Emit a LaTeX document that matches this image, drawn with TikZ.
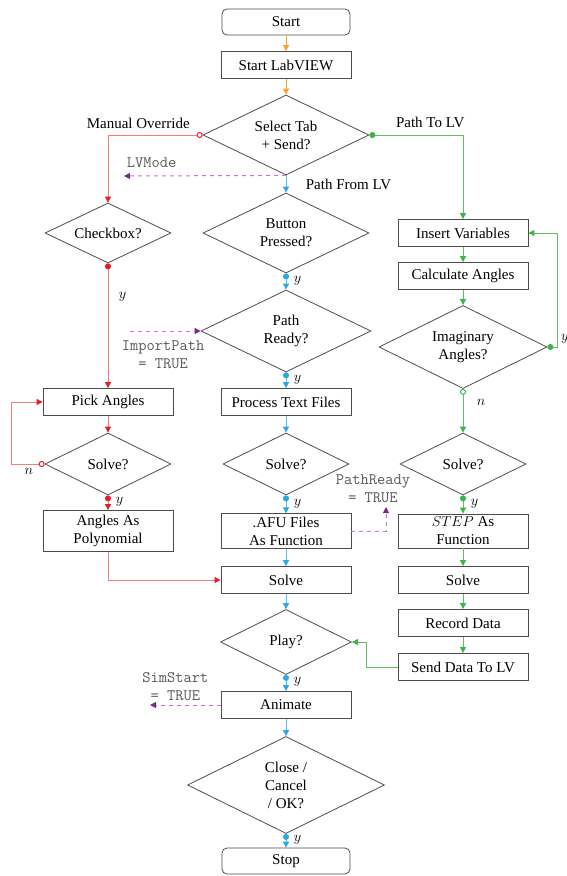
\documentclass[tikz,border=0pt]{standalone}
\usepackage{fontspec}
\setmainfont{Liberation Serif}
\usepackage{tikz}
\usetikzlibrary{shapes.geometric,arrows.meta,positioning}

\definecolor{orangetp}{HTML}{F5A623}
\definecolor{redtp}{HTML}{E41E26}
\definecolor{redln}{HTML}{F27C80}
\definecolor{bluetp}{HTML}{27AAE1}
\definecolor{blueln}{HTML}{5BC0EB}
\definecolor{greentp}{HTML}{3DB54A}
\definecolor{greenln}{HTML}{5EBF61}
\definecolor{purptp}{HTML}{7B2A83}
\definecolor{purpln}{HTML}{D070D0}

\begin{document}
\begin{tikzpicture}[x=1pt, y=-1pt, node distance=43pt, line width=0.8pt,
    font=\fontsize{15}{18}\selectfont,
    term/.style={rectangle, rounded corners=5pt, draw=black!70, minimum width=128pt, minimum height=26pt},
    block/.style={rectangle, draw=black!70, minimum width=130pt, minimum height=27pt, inner sep=3pt, align=center},
    decision/.style={diamond, draw=black!70, inner sep=0pt, aspect=2, align=center},
    flag/.style={font=\fontsize{16}{18}\ttfamily, text=black!65, align=center},
    tipO/.tip={Triangle[width=6pt,length=6pt,color=orangetp]},
    tipR/.tip={Triangle[width=6pt,length=6pt,color=redtp]},
    tipB/.tip={Triangle[width=6pt,length=6pt,color=bluetp]},
    tipG/.tip={Triangle[width=6pt,length=6pt,color=greentp]},
    tipP/.tip={Triangle[width=6pt,length=6pt,color=purptp]},
    flowO/.style={draw=orangetp, line width=1pt, -tipO},
    flowR/.style={draw=redln, line width=1pt, -tipR},
    flowB/.style={draw=blueln, line width=1pt, -tipB},
    flowG/.style={draw=greenln, line width=1pt, -tipG},
    yesR/.style={flowR, arrows={Circle[length=6pt,color=redtp]-tipR}},
    yesB/.style={flowB, arrows={Circle[length=6pt,color=bluetp]-tipB}},
    yesG/.style={flowG, arrows={Circle[length=6pt,color=greentp]-tipG}},
    noR/.style={flowR, arrows={Circle[length=6pt,color=redtp,fill=white]-tipR}},
    noG/.style={flowG, arrows={Circle[length=6pt,color=greentp,fill=white]-tipG}},
    signal/.style={draw=purpln, line width=1pt, dash pattern=on 4pt off 4pt, -tipP}]

    \useasboundingbox (0,0) rectangle (566,876);

    % middle column
    \node [term] (start) at (286,22) {Start};
    \node [block] (lv) [below of=start] {Start LabVIEW};
    \node [decision, minimum width=166pt, minimum height=80pt, node distance=70pt] (sel) [below of=lv] {Select Tab\\+ Send?};
    \node [decision, minimum width=166pt, minimum height=80pt, node distance=98pt] (btn) [below of=sel] {Button\\Pressed?};
    \node [decision, minimum width=170pt, minimum height=82pt, node distance=98pt] (pr) [below of=btn] {Path\\Ready?};
    \node [block, node distance=71pt] (ptf) [below of=pr] {Process Text Files};
    \node [decision, minimum width=126pt, minimum height=62pt, node distance=62pt] (solvem) [below of=ptf] {Solve?};
    \node [block, node distance=67pt] (afu) [below of=solvem] {.AFU Files\\As Function};
    \node [block, node distance=49pt] (solve) [below of=afu] {Solve};
    \node [decision, minimum width=131pt, minimum height=65pt, node distance=62pt] (play) [below of=solve] {Play?};
    \node [block, node distance=63pt] (anim) [below of=play] {Animate};
    \node [decision, minimum width=197pt, minimum height=97pt, node distance=80pt] (close) [below of=anim] {Close /\\Cancel\\/ OK?};
    \node [term, node distance=76pt] (stop) [below of=close] {Stop};

    % left column
    \node [decision, minimum width=126pt, minimum height=60pt, node distance=178pt] (chk) [left of=btn] {Checkbox?};
    \node [block, node distance=178pt] (pick) [left of=ptf] {Pick Angles};
    \node [decision, minimum width=126pt, minimum height=62pt, node distance=178pt] (solvel) [left of=solvem] {Solve?};
    \node [block, minimum height=41pt, node distance=178pt] (poly) [left of=afu] {Angles As\\Polynomial};

    % right column
    \node [block, node distance=177pt] (ins) [right of=btn] {Insert Variables};
    \node [block] (calc) [below of=ins] {Calculate Angles};
    \node [decision, minimum width=168pt, minimum height=83pt, node distance=71pt] (imag) [below of=calc] {Imaginary\\Angles?};
    \node [decision, minimum width=126pt, minimum height=62pt, node distance=177pt] (solver) [right of=solvem] {Solve?};
    \node [block, node distance=177pt] (stepfn) [right of=afu] {$STEP$ As\\Function};
    \node [block, node distance=177pt] (solve2) [right of=solve] {Solve};
    \node [block] (rec) [below of=solve2] {Record Data};
    \node [block, node distance=44pt] (send) [below of=rec] {Send Data To LV};

    % loose ends of the signal arrows
    \coordinate (lvflag) at (124,176);
    \coordinate (ipflag) at (130,331);
    \coordinate (prflag) at (386,507);
    \coordinate (simflag) at (150,705);

    \path
    (start) edge [flowO] (lv)
    (lv) edge [flowO] (sel)
    (sel.south) edge [flowB] node[right=16pt] (lblfrom) {Path From LV} (btn.north)
    (btn.south) edge [yesB] node[right=4pt, pos=0.45] (y1) {$y$} (pr.north)
    (pr.south) edge [yesB] node[right=4pt, pos=0.45] (y2) {$y$} (ptf.north)
    (ptf) edge [flowB] (solvem)
    (solvem.south) edge [yesB] node[right=4pt, pos=0.45] (y3) {$y$} (afu.north)
    (afu) edge [flowB] (solve)
    (solve) edge [flowB] (play)
    (play.south) edge [yesB] node[right=4pt, pos=0.45] (y4) {$y$} (anim.north)
    (anim) edge [flowB] (close)
    (close.south) edge [yesB] node[right=4pt, pos=0.45] (y5) {$y$} (stop.north)
    (chk.south) edge [yesR] node[right=7pt, pos=0.27] (y6) {$y$} (pick.north)
    (pick) edge [flowR] (solvel)
    (solvel.south) edge [yesR] node[right=4pt, pos=0.45] (y7) {$y$} (poly.north)
    (ins) edge [flowG] (calc)
    (calc) edge [flowG] (imag)
    (imag.south) edge [noG] node[right=10pt, pos=0.32] (n2) {$n$} (solver.north)
    (solver.south) edge [yesG] node[right=4pt, pos=0.45] (y8) {$y$} (stepfn.north)
    (stepfn) edge [flowG] (solve2)
    (solve2) edge [flowG] (rec)
    (rec) edge [flowG] (send)
    ;

    \draw [noR] (sel.west) -| node[above=3pt, pos=0.34] (lblman) {Manual Override} (chk.north);
    \draw [yesG] (sel.east) -| node[above=3pt, pos=0.325] (lblto) {Path To LV} (ins.north);
    \draw [noR] (solvel.west) -- ++(-33,0) node[below, pos=0.48] (n1) {$n$} |- (pick.west);
    \draw [flowR] (poly.south) |- (solve.west);
    \draw [yesG] (imag.east) -- ++(10,0) node[above right, pos=1] (y9) {$y$} |- (ins.east);
    \draw [flowG] (send.west) -- ++(-31,0) |- (play.east);

    \draw [signal] (sel.south) -- node[flag, above=4pt, pos=0.83] (lblmode) {LVMode} (lvflag);
    \draw [signal] (ipflag) -- node[flag, below=6pt, pos=0.47] (lblimp) {ImportPath\\= TRUE} (pr.west);
    \draw [signal] (afu.east) -| node[flag, above, pos=1, xshift=-13pt] (lblpr) {PathReady\\= TRUE} (prflag);
    \draw [signal] (anim.west) -- node[flag, above, pos=0.64] (lblsim) {SimStart\\= TRUE} (simflag);
\end{tikzpicture}
\end{document}
